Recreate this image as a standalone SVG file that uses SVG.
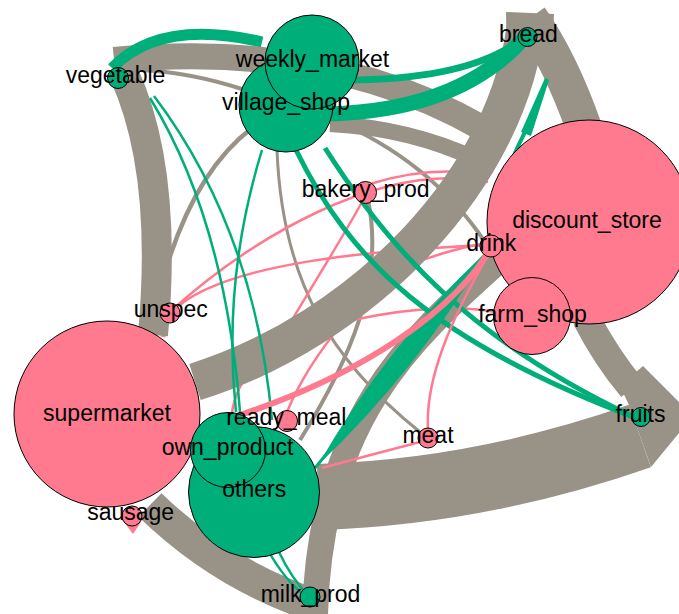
<svg xmlns="http://www.w3.org/2000/svg" width="679" height="614" viewBox="0 0 679 614">
  <style>
    .bg { fill: #ffffff; }
    .e-gray { fill: none; stroke: #989287; stroke-linecap: butt; }
    .e-green { fill: none; stroke: #00AE7A; stroke-linecap: butt; }
    .e-pink { fill: none; stroke: #FF7A8F; stroke-linecap: butt; }
    .f-gray { fill: #989287; stroke: none; }
    .f-green { fill: #00AE7A; stroke: none; }
    .f-pink { fill: #FF7A8F; stroke: none; }
    .node-pink { fill: #FF7A8F; stroke: #000000; stroke-width: 1; }
    .node-green { fill: #00AE7A; stroke: #000000; stroke-width: 1; }
    .label { font-family: "Liberation Sans", Arial, sans-serif; font-size: 23px; text-anchor: middle; fill: #000000; }
  </style>

  <rect class="bg" x="0" y="0" width="679" height="614"/>

  <g id="connectors">
    <!-- thin gray edges -->
    <path class="e-gray" stroke-width="4" d="M 140 70 Q 190 72 245 90"/>
    <path class="e-gray" stroke-width="4.5" d="M 252 128 Q 190 175 160 290"/>
    <path class="e-gray" stroke-width="3" d="M 277 150 C 282 280 330 360 420 432"/>
    <path class="e-gray" stroke-width="4" d="M 330 118 Q 430 160 485 242"/>
    <path class="e-gray" stroke-width="4" d="M 368 200 C 385 280 350 360 300 440"/>

    <!-- thin pink edges, passing under the heavy bands -->
    <path class="e-pink" stroke-width="2.5" d="M 172 310 C 250 240 380 160 488 182"/>
    <path class="e-pink" stroke-width="2.5" d="M 370 184 Q 430 165 488 175"/>
    <path class="e-pink" stroke-width="2.5" d="M 172 312 C 220 262 380 250 487 245"/>
    <path class="e-pink" stroke-width="2.5" d="M 362 202 C 330 260 290 320 262 372"/>
    <path class="e-pink" stroke-width="2.5" d="M 287 412 C 300 380 320 350 345 320"/>
    <path class="e-pink" stroke-width="2.5" d="M 232 413 C 240 340 380 262 486 243"/>
    <path class="e-pink" stroke-width="2.5" d="M 495 312 C 430 300 330 320 255 348"/>
    <path class="e-pink" stroke-width="5" d="M 167 318 L 163 337"/>

    <!-- heavy gray edges -->
    <path class="e-gray" stroke-width="30" d="M 124 74 Q 168 170 153 335"/>
    <path class="e-gray" stroke-width="26" d="M 114 60 Q 330 40 482 128"/>
    <path class="e-gray" stroke-width="16" d="M 330 124 Q 410 128 478 160"/>
    <path class="e-gray" stroke-width="38" d="M 527 15 C 512 180 360 330 195 382"/>
    <path class="e-gray" stroke-width="36" d="M 530 18 Q 560 60 584 128"/>
    <polygon class="f-gray" points="506,12 554,14 553,35 540,60 507,60"/>
    <path class="e-gray" stroke-width="28" d="M 586 318 Q 606 357 632 388"/>
    <path class="e-gray" stroke-width="66" d="M 640 436 Q 480 492 318 497"/>
    <polygon class="f-gray" points="620,386 643,366 679,402 679,433 651,467 629,405"/>
    <path class="e-gray" stroke-width="26" d="M 497 262 C 410 340 320 420 315 614"/>
    <path class="e-gray" stroke-width="33" d="M 150 505 Q 222 575 316 606"/>

    <!-- green edges -->
    <path class="e-green" stroke-width="11" d="M 112 68 Q 160 18 262 42"/>
    <path class="e-green" stroke-width="7" d="M 345 80 Q 470 80 523 38"/>
    <path class="e-green" stroke-width="15" d="M 330 114 Q 460 110 524 38"/>
    <path class="e-green" stroke-width="2.5" d="M 150 98 Q 225 220 240 412"/>
    <path class="e-green" stroke-width="2.5" d="M 154 96 Q 255 230 272 420"/>
    <path class="e-green" stroke-width="2.5" d="M 262 150 Q 222 280 236 412"/>
    <path class="e-green" stroke-width="5" d="M 296 150 C 350 260 430 340 636 418"/>
    <path class="e-green" stroke-width="5" d="M 325 148 C 390 250 470 340 636 418"/>
    <path class="f-green" d="M 318 465 Q 419 369 488 250 Q 387 345 318 465 Z"/>
    <polygon class="f-green" points="545,78 549,80 531,136 521,132"/>
    <path class="e-green" stroke-width="4" d="M 526 130 Q 495 190 490 245"/>
    <path class="e-green" stroke-width="3" d="M 487 253 Q 420 340 315 468"/>
    <path class="e-green" stroke-width="2.5" d="M 265 545 Q 285 582 307 597"/>
    <path class="e-green" stroke-width="2.5" d="M 278 550 Q 292 580 310 597"/>

    <!-- pink edges drawn over the bands -->
    <path class="e-pink" stroke-width="6" d="M 240 415 C 330 385 440 330 490 250"/>
    <path class="e-pink" stroke-width="2.5" d="M 428 430 C 425 380 450 320 490 252"/>
    <path class="e-pink" stroke-width="2.5" d="M 420 442 Q 370 455 322 468"/>
    <polygon class="f-pink" points="124,522 141,522 133,534"/>
  </g>

  <g id="node-supermarket"><circle class="node-pink" cx="107" cy="414" r="93"/></g>
  <g id="node-others"><circle class="node-green" cx="254" cy="492" r="65.5"/></g>
  <g id="node-own_product"><circle class="node-green" cx="228" cy="450" r="37.5"/></g>
  <g id="node-village_shop"><circle class="node-green" cx="286" cy="105" r="47"/></g>
  <g id="node-weekly_market"><circle class="node-green" cx="312" cy="62" r="47"/></g>
  <g id="node-discount_store"><circle class="node-pink" cx="589" cy="222" r="102"/></g>
  <g id="node-farm_shop"><circle class="node-pink" cx="532" cy="316" r="38.5"/></g>
  <g id="node-drink"><circle class="node-pink" cx="491" cy="246" r="11"/></g>
  <g id="node-vegetable"><circle class="node-green" cx="118" cy="78" r="10.5"/></g>
  <g id="node-bread"><circle class="node-green" cx="527.5" cy="37" r="9.5"/></g>
  <g id="node-bakery_prod"><circle class="node-pink" cx="365.5" cy="192.5" r="11"/></g>
  <g id="node-unspec"><circle class="node-pink" cx="170" cy="313" r="10"/></g>
  <g id="node-ready_meal"><circle class="node-pink" cx="287" cy="421" r="10.5"/></g>
  <g id="node-sausage"><circle class="node-pink" cx="132" cy="516" r="10"/></g>
  <g id="node-milk_prod"><circle class="node-green" cx="310" cy="597" r="10"/></g>
  <g id="node-meat"><circle class="node-pink" cx="428" cy="438" r="10"/></g>
  <g id="node-fruits"><circle class="node-green" cx="641" cy="417" r="9.5"/></g>

  <g id="labels">
    <text class="label" x="115.5" y="83">vegetable</text>
    <text class="label" x="312.5" y="67">weekly_market</text>
    <text class="label" x="286" y="110">village_shop</text>
    <text class="label" x="528.5" y="42">bread</text>
    <text class="label" x="365.6" y="197">bakery_prod</text>
    <text class="label" x="587" y="228">discount_store</text>
    <text class="label" x="491.3" y="251">drink</text>
    <text class="label" x="532.5" y="322">farm_shop</text>
    <text class="label" x="170.8" y="317">unspec</text>
    <text class="label" x="107" y="421">supermarket</text>
    <text class="label" x="286.3" y="425">ready_meal</text>
    <text class="label" x="227.5" y="455">own_product</text>
    <text class="label" x="254.2" y="497">others</text>
    <text class="label" x="130.7" y="520">sausage</text>
    <text class="label" x="310.5" y="602">milk_prod</text>
    <text class="label" x="428" y="443">meat</text>
    <text class="label" x="640.5" y="422">fruits</text>
  </g>
</svg>
